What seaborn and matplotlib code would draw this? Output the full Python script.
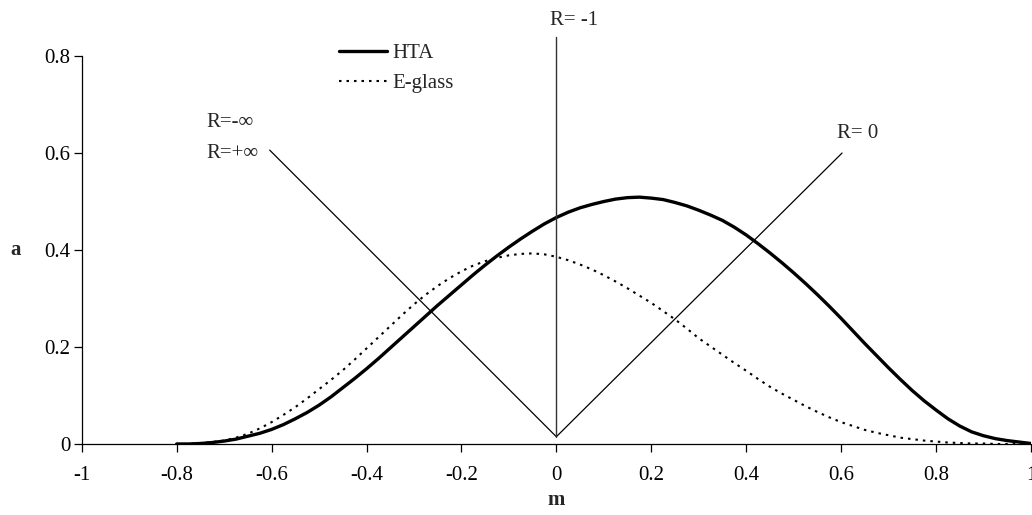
import numpy as np
import pandas as pd
import matplotlib
matplotlib.use("Agg")
import matplotlib.pyplot as plt
import seaborn as sns

# ---- data ----
m_values = [-0.800, -0.775, -0.750, -0.725, -0.700, -0.675, -0.650, -0.625, -0.600, -0.575,
            -0.550, -0.525, -0.500, -0.475, -0.450, -0.425, -0.400, -0.375, -0.350, -0.325,
            -0.300, -0.275, -0.250, -0.225, -0.200, -0.175, -0.150, -0.125, -0.100, -0.075,
            -0.050, -0.025, 0.000, 0.025, 0.050, 0.075, 0.100, 0.125, 0.150, 0.175,
            0.200, 0.225, 0.250, 0.275, 0.300, 0.325, 0.350, 0.375, 0.400, 0.425,
            0.450, 0.475, 0.500, 0.525, 0.550, 0.575, 0.600, 0.625, 0.650, 0.675,
            0.700, 0.725, 0.750, 0.775, 0.800, 0.825, 0.850, 0.875, 0.900, 0.925,
            0.950, 0.975, 1.000]
hta_values = [0.000, 0.000, 0.001, 0.003, 0.006, 0.010, 0.016, 0.022, 0.030, 0.040,
              0.052, 0.065, 0.080, 0.097, 0.116, 0.135, 0.155, 0.176, 0.198, 0.220,
              0.242, 0.264, 0.286, 0.307, 0.328, 0.349, 0.369, 0.388, 0.406, 0.423,
              0.439, 0.454, 0.467, 0.478, 0.487, 0.494, 0.500, 0.505, 0.508, 0.509,
              0.507, 0.504, 0.498, 0.491, 0.482, 0.472, 0.461, 0.447, 0.431, 0.413,
              0.394, 0.374, 0.353, 0.331, 0.308, 0.284, 0.259, 0.233, 0.207, 0.182,
              0.157, 0.133, 0.110, 0.089, 0.070, 0.052, 0.037, 0.025, 0.017, 0.011,
              0.007, 0.004, 0.001]
eglass_values = [0.000, 0.000, 0.002, 0.004, 0.007, 0.013, 0.021, 0.032, 0.045, 0.060,
                 0.076, 0.094, 0.113, 0.132, 0.152, 0.174, 0.197, 0.220, 0.243, 0.266,
                 0.288, 0.308, 0.326, 0.342, 0.356, 0.368, 0.377, 0.384, 0.389, 0.392,
                 0.393, 0.391, 0.386, 0.379, 0.370, 0.360, 0.348, 0.335, 0.321, 0.306,
                 0.291, 0.274, 0.257, 0.238, 0.218, 0.201, 0.184, 0.167, 0.151, 0.134,
                 0.118, 0.104, 0.091, 0.078, 0.066, 0.055, 0.045, 0.037, 0.029, 0.023,
                 0.018, 0.013, 0.010, 0.007, 0.005, 0.003, 0.002, 0.001, 0.001, 0.000,
                 0.000, 0.000, 0.000]
series_names = ["HTA", "E-glass"]

# guide lines (R = const)
v_x = [-0.604, 0.0, 0.602]
v_y = [0.606, 0.015, 0.600]
vert_x = [0.0, 0.0]
vert_y = [0.015, 0.84]

x_ticks = [-1, -0.8, -0.6, -0.4, -0.2, 0, 0.2, 0.4, 0.6, 0.8, 1]
x_tick_labels = ["-1", "-0.8", "-0.6", "-0.4", "-0.2", "0", "0.2", "0.4", "0.6", "0.8", "1"]
y_ticks = [0, 0.2, 0.4, 0.6, 0.8]
y_tick_labels = ["0", "0.2", "0.4", "0.6", "0.8"]

df = pd.DataFrame({
    "m": m_values * 2,
    "a": hta_values + eglass_values,
    "series": [series_names[0]] * len(m_values) + [series_names[1]] * len(m_values),
})

sns.set_style("ticks")
plt.rcParams["font.family"] = ["Liberation Serif", "DejaVu Serif"]
FS = 15

fig = plt.figure(figsize=(10.32, 5.15), dpi=100)
ax = fig.add_axes([0.0792, 0.1379, 0.9198, 0.7533])

sns.lineplot(data=df[df.series == "HTA"], x="m", y="a", color="black", lw=2.4,
             label="HTA", ax=ax, estimator=None, sort=False)
sns.lineplot(data=df[df.series == "E-glass"], x="m", y="a", color="black", lw=1.5,
             linestyle=(0, (1.2, 2.4)), label="E-glass", ax=ax, estimator=None, sort=False)

ax.plot(v_x, v_y, color="black", lw=0.9, clip_on=False)
ax.plot(vert_x, vert_y, color="#333333", lw=1.0, clip_on=False)

ax.set_xlim(-1, 1)
ax.set_ylim(0, 0.8)
ax.set_xticks(x_ticks)
ax.set_xticklabels(x_tick_labels)
ax.set_yticks(y_ticks)
ax.set_yticklabels(y_tick_labels)
ax.tick_params(axis="x", direction="out", length=6, width=0.9, pad=10, labelsize=FS, colors="black")
ax.tick_params(axis="y", direction="out", length=6, width=0.9, pad=2, labelsize=FS, colors="black")
for s in ["top", "right"]:
    ax.spines[s].set_visible(False)
for s in ["left", "bottom"]:
    ax.spines[s].set_color("black")
    ax.spines[s].set_linewidth(0.9)

ax.set_xlabel("m", fontsize=FS, fontweight="bold")
ax.set_ylabel("a", fontsize=FS, fontweight="bold", rotation=0)
ax.xaxis.set_label_coords(0.5, -0.145)
ax.yaxis.set_label_coords(-0.070, 0.5)
ax.yaxis.label.set_va("center")
ax.xaxis.label.set_va("center")

ax.text(0.037, 0.874, "R= -1", fontsize=FS, ha="center", va="center")
ax.text(-0.738, 0.662, "R=-\u221e", fontsize=FS, ha="left", va="center")
ax.text(-0.738, 0.600, "R=+\u221e", fontsize=FS, ha="left", va="center")
ax.text(0.635, 0.641, "R= 0", fontsize=FS, ha="center", va="center")

leg = ax.legend(loc="upper left", bbox_to_anchor=(0.318, 0.935), bbox_transform=fig.transFigure,
                frameon=False, fontsize=FS, borderpad=0, handlelength=2.3,
                handletextpad=0.3, labelspacing=0.5)

fig.savefig("out.png", dpi=100)
